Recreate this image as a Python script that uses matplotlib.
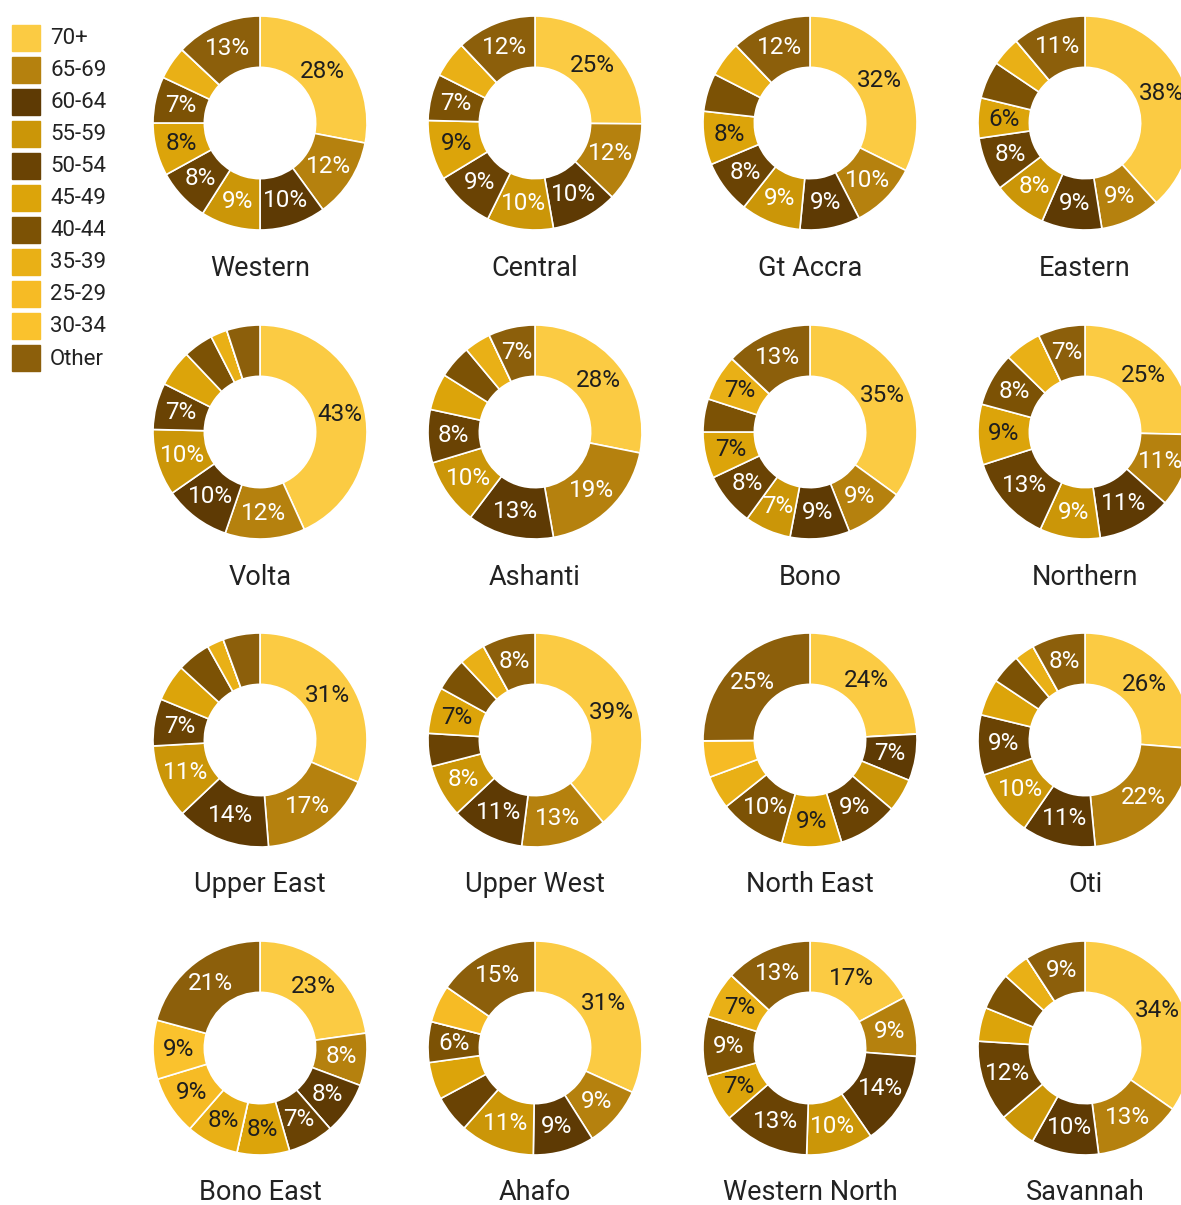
import numpy as np
import matplotlib as mpl
import matplotlib.pyplot as plt
from matplotlib.patches import Rectangle

mpl.rcParams['font.family'] = ['Roboto', 'DejaVu Sans']

# age groups, in the order the wedges run clockwise from 12 o'clock
age_groups = ['70+', '65-69', '60-64', '55-59', '50-54', '45-49',
              '40-44', '35-39', '25-29', '30-34', 'Other']
group_colors = ['#FBCB43', '#B5810E', '#5E3A04', '#CB9608', '#6A4304', '#DCA40A',
                '#7C5205', '#E9B016', '#F6BB25', '#FAC22D', '#8C5F0B']
# dark text on the light wedges, white on the brown ones
label_colors = ['#1e1e1e', 'white', 'white', 'white', 'white', '#1e1e1e',
                'white', '#1e1e1e', '#1e1e1e', '#1e1e1e', 'white']

regions = ['Western', 'Central', 'Gt Accra', 'Eastern',
           'Volta', 'Ashanti', 'Bono', 'Northern',
           'Upper East', 'Upper West', 'North East', 'Oti',
           'Bono East', 'Ahafo', 'Western North', 'Savannah']

# share of each age group per region (%)
western = [28, 12, 10, 9, 8, 8, 7, 5, 0, 0, 13]
central = [25, 12, 10, 10, 9, 9, 7, 5.5, 0, 0, 12]
gt_accra = [32, 10, 9, 9, 8, 8, 5.7, 5.3, 0, 0, 12]
eastern = [38, 9, 9, 8, 8, 6, 5.6, 4.4, 0, 0, 11]
volta = [43, 12, 10, 10, 7, 5.5, 4.5, 2.5, 0, 0, 5]
ashanti = [28, 19, 13, 10, 8, 5.5, 5, 4, 0, 0, 7]
bono = [35, 9, 9, 7, 8, 7, 5, 7, 0, 0, 13]
northern = [25, 11, 11, 9, 13, 9, 8, 5.5, 0, 0, 7]
upper_east = [31, 17, 14, 11, 7, 5.5, 5, 2.5, 0, 0, 5.5]
upper_west = [39, 13, 11, 8, 5, 7, 5, 4, 0, 0, 8]
north_east = [24, 0, 7, 5, 9, 9, 10, 5, 5.5, 0, 25]
oti = [26, 22, 11, 10, 9, 5.5, 4.5, 3, 0, 0, 8]
bono_east = [23, 8, 8, 0, 7, 8, 0, 8, 9, 9, 21]
ahafo = [31, 9, 9, 11, 5.5, 5.5, 6, 0, 5.5, 0, 15]
western_north = [17, 9, 14, 10, 13, 7, 9, 7, 0, 0, 13]
savannah = [34, 13, 10, 5.5, 12, 5, 5.5, 4, 0, 0, 9]

shares = [western, central, gt_accra, eastern, volta, ashanti, bono, northern,
          upper_east, upper_west, north_east, oti, bono_east, ahafo,
          western_north, savannah]

W, H = 1181, 1205
col_x = [260, 535, 810, 1085]
row_y = [123, 432, 740, 1048]
R = 107
HOLE = 0.48

fig = plt.figure(figsize=(W / 100, H / 100), dpi=100)


def px_axes(cx, cy, r):
    return fig.add_axes([(cx - r) / W, (H - cy - r) / H, 2 * r / W, 2 * r / H])


for i, (name, vals) in enumerate(zip(regions, shares)):
    cx, cy = col_x[i % 4], row_y[i // 4]
    ax = px_axes(cx, cy, R)
    wedges, _ = ax.pie(vals, colors=group_colors, startangle=90, counterclock=False,
                       radius=1, wedgeprops=dict(width=HOLE, edgecolor='white', linewidth=1.2))
    total = sum(vals)
    # label wedges that are wide enough to hold the text
    for w, v, tc in zip(wedges, vals, label_colors):
        if v / total * 100 < 5.8:
            continue
        ang = np.deg2rad((w.theta1 + w.theta2) / 2)
        rr = 1 - HOLE / 2
        ax.text(rr * np.cos(ang), rr * np.sin(ang), f'{round(v)}%', ha='center', va='center',
                fontsize=17.5, color=tc)
    ax.set_xlim(-1, 1)
    ax.set_ylim(-1, 1)
    fig.text(cx / W, 1 - (cy + 145) / H, name, ha='center', va='center',
             fontsize=19.5, color='#222222')

# legend down the left edge
for j, (g, c) in enumerate(zip(age_groups, group_colors)):
    yc = 38 + j * 32
    fig.patches.append(Rectangle((12 / W, 1 - (yc + 13) / H), 28 / W, 26 / H,
                                 transform=fig.transFigure, color=c))
    fig.text(50 / W, 1 - (yc + 1) / H, g, ha='left', va='center', fontsize=16, color='#222222')

fig.savefig('out.png', dpi=100)
